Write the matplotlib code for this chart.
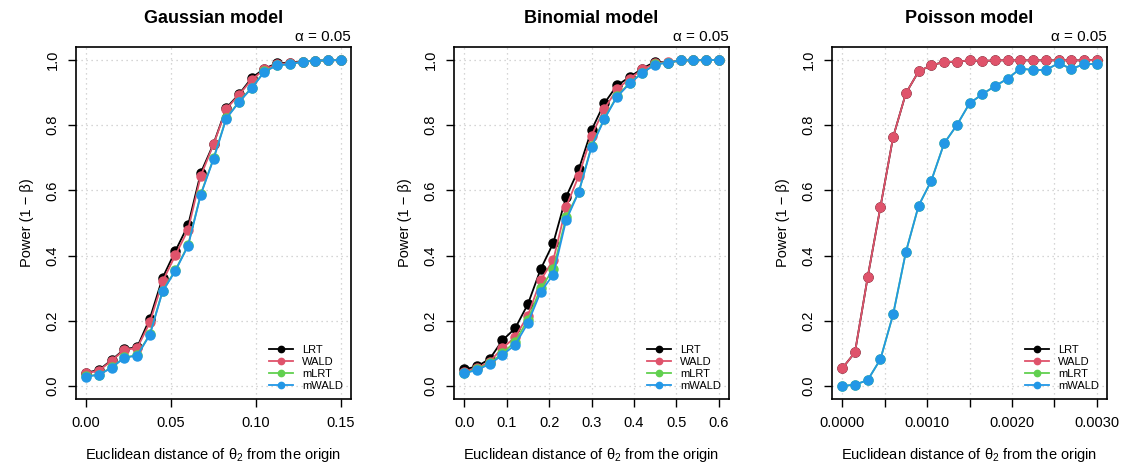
import matplotlib.pyplot as plt
import numpy as np

plt.rcParams['font.family'] = ['Liberation Sans', 'DejaVu Sans']
plt.rcParams['mathtext.fontset'] = 'custom'
plt.rcParams['mathtext.rm'] = 'Liberation Sans'
plt.rcParams['mathtext.it'] = 'Liberation Sans'

# x grids (21 points each)
x_gauss = np.linspace(0, 0.15, 21)
x_binom = np.linspace(0, 0.6, 21)
x_pois = np.linspace(0, 0.003, 21)

# Gaussian model power
g_lrt = [0.041, 0.049, 0.080, 0.113, 0.119, 0.207, 0.332, 0.414, 0.493, 0.654, 0.743,
         0.853, 0.895, 0.945, 0.974, 0.990, 0.992, 0.995, 0.998, 0.999, 1.000]
g_wald = [0.039, 0.047, 0.078, 0.111, 0.116, 0.195, 0.321, 0.401, 0.479, 0.645, 0.741,
          0.850, 0.893, 0.940, 0.971, 0.988, 0.990, 0.995, 0.998, 0.999, 1.000]
g_mlrt = [0.030, 0.035, 0.057, 0.088, 0.094, 0.159, 0.292, 0.355, 0.432, 0.589, 0.698,
          0.822, 0.872, 0.915, 0.965, 0.984, 0.987, 0.995, 0.998, 0.999, 1.000]
g_mwald = [0.029, 0.034, 0.056, 0.087, 0.093, 0.157, 0.290, 0.353, 0.430, 0.587, 0.696,
           0.820, 0.871, 0.914, 0.964, 0.984, 0.987, 0.995, 0.998, 0.999, 1.000]

# Binomial model power
b_lrt = [0.051, 0.060, 0.083, 0.140, 0.177, 0.251, 0.358, 0.439, 0.580, 0.665, 0.785,
         0.867, 0.922, 0.948, 0.974, 0.995, 0.992, 0.999, 0.999, 1.000, 1.000]
b_wald = [0.044, 0.054, 0.075, 0.116, 0.150, 0.216, 0.324, 0.387, 0.549, 0.645, 0.768,
          0.850, 0.910, 0.943, 0.971, 0.990, 0.994, 0.999, 0.999, 1.000, 1.000]
b_mlrt = [0.039, 0.051, 0.070, 0.100, 0.136, 0.203, 0.300, 0.358, 0.517, 0.595, 0.736,
          0.820, 0.889, 0.930, 0.961, 0.987, 0.992, 0.999, 0.999, 1.000, 1.000]
b_mwald = [0.039, 0.049, 0.067, 0.095, 0.126, 0.193, 0.288, 0.342, 0.508, 0.595, 0.733,
           0.818, 0.887, 0.928, 0.961, 0.986, 0.992, 0.999, 0.999, 1.000, 1.000]

# Poisson model power
p_lrt = [0.054, 0.103, 0.334, 0.549, 0.764, 0.898, 0.965, 0.984, 0.994, 0.995, 0.999,
         0.997, 0.999, 0.999, 0.999, 0.999, 0.999, 0.999, 0.999, 0.999, 1.000]
p_wald = list(p_lrt)
p_mlrt = [0.000, 0.004, 0.018, 0.082, 0.220, 0.411, 0.553, 0.630, 0.744, 0.800, 0.867,
          0.895, 0.920, 0.943, 0.974, 0.969, 0.970, 0.990, 0.973, 0.987, 0.988]
p_mwald = list(p_mlrt)

titles = ['Gaussian model', 'Binomial model', 'Poisson model']
methods = ['LRT', 'WALD', 'mLRT', 'mWALD']
colors = ['#000000', '#DF536B', '#61D04F', '#2297E6']

panels = [
    (x_gauss, [g_lrt, g_wald, g_mlrt, g_mwald], np.arange(0, 0.151, 0.05), ['0.00', '0.05', '0.10', '0.15']),
    (x_binom, [b_lrt, b_wald, b_mlrt, b_mwald], np.arange(0, 0.61, 0.1), ['0.0', '0.1', '0.2', '0.3', '0.4', '0.5', '0.6']),
    (x_pois, [p_lrt, p_wald, p_mlrt, p_mwald], np.arange(0, 0.00301, 0.0005),
     ['0.0000', '', '0.0010', '', '0.0020', '', '0.0030']),
]

fig = plt.figure(figsize=(11.25, 4.68), dpi=100)
lefts = [0.0676, 0.4036, 0.7396]

for i, (xs, series, xt, xtl) in enumerate(panels):
    ax = fig.add_axes([lefts[i], 0.1474, 0.2444, 0.7522])
    for s, name, c in zip(series, methods, colors):
        ax.plot(xs, s, '-o', color=c, lw=1.3, ms=6.5, label=name)
    ax.set_xlim(xs[0] - 0.04 * xs[-1], xs[-1] * 1.04)
    ax.set_ylim(-0.04, 1.04)
    ax.set_xticks(xt)
    ax.set_xticklabels(xtl, fontsize=10.5)
    ax.set_yticks([0, 0.2, 0.4, 0.6, 0.8, 1.0])
    ax.set_yticklabels(['0.0', '0.2', '0.4', '0.6', '0.8', '1.0'], fontsize=10.5,
                       rotation=90, va='center')
    ax.tick_params(direction='out', length=6, width=1, pad=6)
    ax.grid(True, linestyle=(0, (1, 3)), color='#c8c8c8', lw=0.9)
    for sp in ax.spines.values():
        sp.set_linewidth(1.2)
    ax.set_title(titles[i], fontsize=13, fontweight='bold', pad=17)
    ax.text(1.0, 1.008, 'α = 0.05', transform=ax.transAxes, ha='right',
            va='bottom', fontsize=11)
    ax.set_ylabel('Power (1 − β)', fontsize=10.5, labelpad=8)
    ax.set_xlabel('Euclidean distance of θ$_2$ from the origin', fontsize=10.5, labelpad=12)
    ax.legend(loc='lower right', frameon=False, fontsize=8, handlelength=2.2,
              markerscale=0.7, labelspacing=0.2, borderaxespad=0.3)

fig.savefig('out.png', dpi=100)
